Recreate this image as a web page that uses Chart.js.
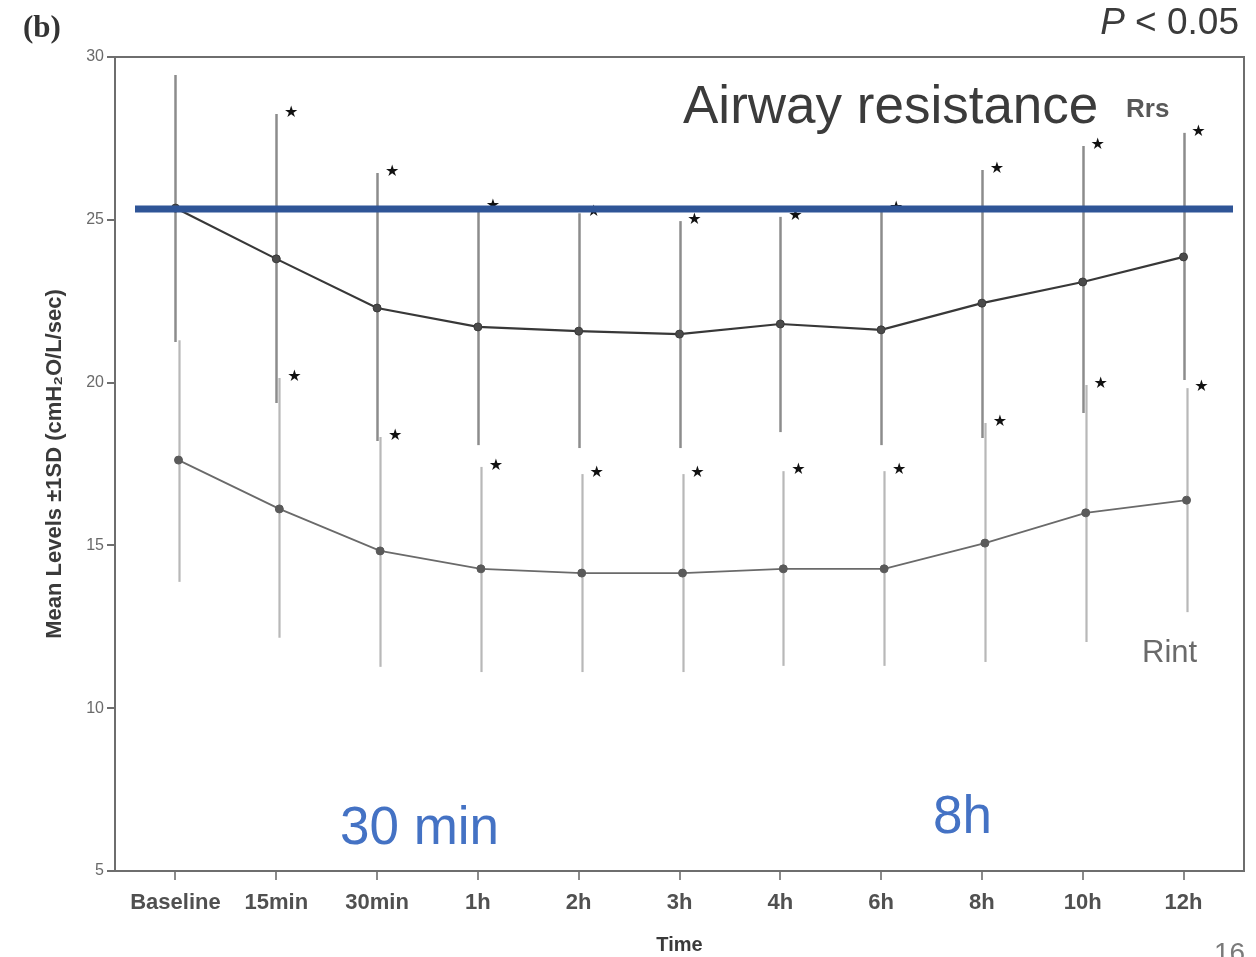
<!DOCTYPE html>
<html>
<head>
<meta charset="utf-8">
<script src="https://cdn.jsdelivr.net/npm/chart.js@4.4.1/dist/chart.umd.min.js"></script>
<style>
  html, body { margin: 0; padding: 0; background: #fff; }
  #wrap { width: 1256px; height: 957px; position: relative; }
</style>
</head>
<body>
<div id="wrap"><canvas id="c" width="1256" height="957"></canvas></div>
<script>
// ---- Data ----
const categories = ['Baseline', '15min', '30min', '1h', '2h', '3h', '4h', '6h', '8h', '10h', '12h'];

const rrsMean  = [25.36, 23.80, 22.29, 21.71, 21.58, 21.49, 21.80, 21.62, 22.44, 23.09, 23.86];
const rrsUpper = [29.45, 28.25, 26.44, 25.40, 25.20, 24.96, 25.09, 25.35, 26.53, 27.27, 27.67];
const rrsLower = [21.25, 19.37, 18.21, 18.08, 17.99, 17.99, 18.48, 18.08, 18.30, 19.07, 20.08];
const rrsSignificant = [false, true, true, true, true, true, true, true, true, true, true];

const rintMean  = [17.62, 16.12, 14.83, 14.28, 14.15, 14.15, 14.28, 14.28, 15.07, 16.00, 16.39];
const rintUpper = [21.30, 20.14, 18.33, 17.41, 17.19, 17.19, 17.28, 17.28, 18.76, 19.93, 19.83];
const rintLower = [13.88, 12.16, 11.27, 11.11, 11.11, 11.11, 11.30, 11.30, 11.42, 12.03, 12.95];
const rintSignificant = [false, true, true, true, true, true, true, true, true, true, true];

const yTicks = [5, 10, 15, 20, 25, 30];
const referenceLevel = 25.33;   // blue horizontal line (baseline Rrs level)

// ---- Styles ----
const rintShift = 0.03;  // small horizontal shift of the Rint series
const sans = "'Liberation Sans', Arial, Helvetica, sans-serif";

const rrsPoints = rrsMean.map((v, i) => ({ x: i, y: v }));
const rintPoints = rintMean.map((v, i) => ({ x: i + rintShift, y: v }));

const decorPlugin = {
  id: 'decor',
  beforeDatasetsDraw(chart) {
    const { ctx, chartArea: a, scales: { x, y } } = chart;
    ctx.save();
    // frame (top & right)
    ctx.strokeStyle = '#6e6e6e';
    ctx.lineWidth = 2;
    ctx.beginPath();
    ctx.moveTo(a.left, a.top); ctx.lineTo(a.right, a.top); ctx.lineTo(a.right, a.bottom);
    ctx.stroke();
    // error bars
    const drawBars = (upper, lower, shift, color, width) => {
      ctx.strokeStyle = color;
      ctx.lineWidth = width;
      upper.forEach((u, i) => {
        const px = Math.round(x.getPixelForValue(i + shift)) + 0.5;
        ctx.beginPath();
        ctx.moveTo(px, y.getPixelForValue(u));
        ctx.lineTo(px, y.getPixelForValue(lower[i]));
        ctx.stroke();
      });
    };
    drawBars(rrsUpper, rrsLower, 0, '#8c8c8c', 2.5);
    drawBars(rintUpper, rintLower, rintShift, '#b8b8b8', 2.2);
    ctx.restore();
  },
  afterDatasetsDraw(chart) {
    const { ctx, scales: { x, y } } = chart;
    ctx.save();
    // significance stars
    ctx.fillStyle = '#111';
    ctx.font = "16px 'DejaVu Sans', sans-serif";
    ctx.textAlign = 'center';
    ctx.textBaseline = 'middle';
    const stars = (upper, sig, shift) => {
      upper.forEach((u, i) => {
        if (!sig[i]) return;
        ctx.fillText('★', x.getPixelForValue(i + shift) + 15, y.getPixelForValue(u) - 1);
      });
    };
    stars(rrsUpper, rrsSignificant, 0);
    stars(rintUpper, rintSignificant, rintShift);

    // blue reference line
    const by = y.getPixelForValue(referenceLevel);
    ctx.strokeStyle = '#2f5597';
    ctx.lineWidth = 7;
    ctx.beginPath();
    ctx.moveTo(135, by);
    ctx.lineTo(1233, by);
    ctx.stroke();

    // in-plot labels
    ctx.textAlign = 'left';
    ctx.textBaseline = 'alphabetic';
    ctx.fillStyle = '#595959';
    ctx.font = "bold 26px " + sans;
    ctx.fillText('Rrs', 1126, 117);
    ctx.fillStyle = '#6a6a6a';
    ctx.font = "31px " + sans;
    ctx.fillText('Rint', 1142, 662);

    ctx.fillStyle = '#3b3b3b';
    ctx.font = "53px " + sans;
    ctx.fillText('Airway resistance', 683, 123);

    ctx.fillStyle = '#4472c4';
    ctx.font = "53px " + sans;
    ctx.fillText('30 min', 340, 844);
    ctx.fillText('8h', 933, 833);
    ctx.restore();
  },
  afterDraw(chart) {
    const { ctx } = chart;
    ctx.save();
    ctx.fillStyle = '#333';
    ctx.textBaseline = 'alphabetic';
    ctx.textAlign = 'left';
    ctx.font = "bold 31px 'Liberation Serif', 'Times New Roman', serif";
    ctx.fillText('(b)', 23, 37);

    ctx.textAlign = 'right';
    ctx.fillStyle = '#3b3b3b';
    ctx.font = "37px " + sans;
    const rest = ' < 0.05';
    ctx.fillText(rest, 1239, 34);
    const w = ctx.measureText(rest).width;
    ctx.font = "italic 37px " + sans;
    ctx.fillText('P', 1239 - w, 34);

    ctx.textAlign = 'left';
    ctx.textBaseline = 'top';
    ctx.fillStyle = '#7a7a7a';
    ctx.font = "28px " + sans;
    ctx.fillText('16', 1214, 940);
    ctx.restore();
  }
};

new Chart(document.getElementById('c'), {
  type: 'line',
  data: {
    datasets: [
      {
        label: 'Rrs',
        data: rrsPoints,
        borderColor: '#383838',
        borderWidth: 2.2,
        pointRadius: 4,
        pointBackgroundColor: '#4a4a4a',
        pointBorderColor: '#3a3a3a',
        pointBorderWidth: 1,
        tension: 0
      },
      {
        label: 'Rint',
        data: rintPoints,
        borderColor: '#6a6a6a',
        borderWidth: 1.8,
        pointRadius: 4,
        pointBackgroundColor: '#5a5a5a',
        pointBorderColor: '#5a5a5a',
        pointBorderWidth: 1,
        tension: 0
      }
    ]
  },
  options: {
    responsive: false,
    animation: false,
    layout: { padding: { top: 57, right: 12, left: 0, bottom: 0 } },
    plugins: {
      legend: { display: false },
      tooltip: { enabled: false }
    },
    scales: {
      x: {
        type: 'linear',
        min: -0.6,
        max: 10.6,
        afterFit(scale) { scale.height = 86; },
        afterBuildTicks(axis) { axis.ticks = categories.map((_, i) => ({ value: i })); },
        ticks: {
          autoSkip: false,
          maxRotation: 0,
          padding: 10,
          color: '#505050',
          font: { family: sans, size: 22, weight: 'bold' },
          callback: (v) => categories[v]
        },
        grid: { drawOnChartArea: false, drawTicks: true, tickLength: 9, color: '#8a8a8a', lineWidth: 2 },
        border: { display: true, color: '#6e6e6e', width: 2 },
        title: {
          display: true,
          text: 'Time',
          color: '#3a3a3a',
          font: { family: sans, size: 20, weight: 'bold' },
          padding: { top: 0, bottom: 0 }
        }
      },
      y: {
        type: 'linear',
        min: 5,
        max: 30,
        afterFit(scale) { scale.width = 115; },
        afterBuildTicks(axis) { axis.ticks = yTicks.map(v => ({ value: v })); },
        ticks: {
          padding: 3,
          color: '#6a6a6a',
          font: { family: sans, size: 16 }
        },
        grid: { drawOnChartArea: false, drawTicks: true, tickLength: 8, color: '#6e6e6e', lineWidth: 2 },
        border: { display: true, color: '#6e6e6e', width: 2 },
        title: {
          display: true,
          text: 'Mean Levels ±1SD (cmH₂O/L/sec)',
          color: '#3a3a3a',
          font: { family: sans, size: 22, weight: 'bold' },
          padding: { top: 42, bottom: 0 }
        }
      }
    }
  },
  plugins: [decorPlugin]
});
</script>
</body>
</html>
